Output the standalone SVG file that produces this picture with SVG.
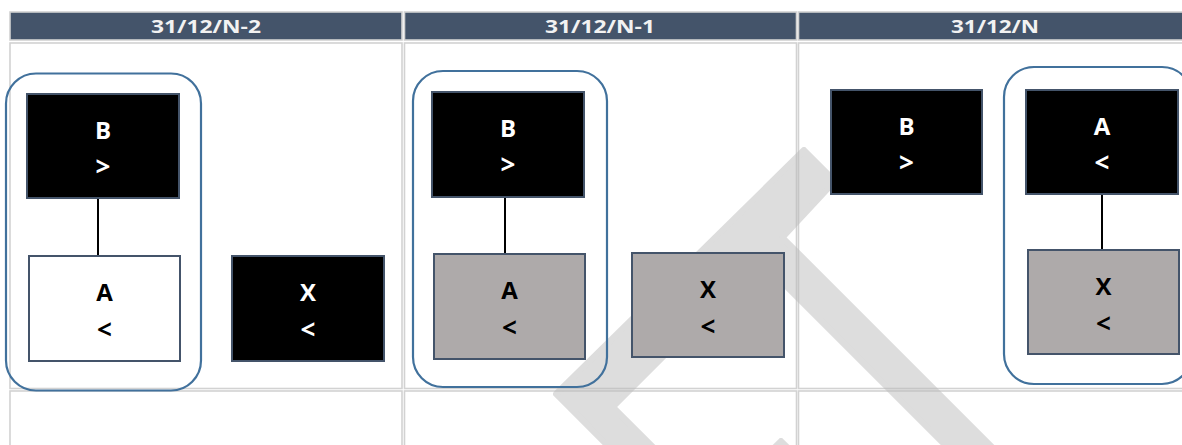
<svg xmlns="http://www.w3.org/2000/svg" width="1182" height="445" viewBox="0 0 1182 445">
<style>
.cell{fill:none;stroke:#D2D2D2;stroke-width:1.6}
.hdr{fill:#44546A;stroke:#D2D2D2;stroke-width:1.6}
.htxt{font-family:"Open Sans","Liberation Sans",sans-serif;font-weight:bold;font-size:18.5px;fill:#F2F2F2;text-anchor:middle}
.grp{fill:none;stroke:#41719C;stroke-width:2.2}
.box{stroke:#44546A;stroke-width:2}
.dark{fill:#000000}
.light{fill:#FFFFFF}
.gray{fill:#AEAAAA}
.t{font-family:"Open Sans","Liberation Sans",sans-serif;font-weight:bold;font-size:24px;text-anchor:middle}
.s{font-size:26px}
.tw{fill:#FFFFFF}
.tb{fill:#000000}
.conn{stroke:#000000;stroke-width:2;fill:none}
.wm{fill:#BCBCBC;stroke:#BCBCBC;stroke-width:6;stroke-linejoin:round;opacity:0.5}
</style>
<rect width="1182" height="445" fill="#FFFFFF"/>
<g id="table">
<rect class="hdr" x="10" y="12" width="392" height="28"/>
<rect class="hdr" x="404.5" y="12" width="392" height="28"/>
<rect class="hdr" x="798.5" y="12" width="400" height="28"/>
<text class="htxt" x="206" y="33" textLength="110" lengthAdjust="spacingAndGlyphs">31/12/N-2</text>
<text class="htxt" x="600" y="33" textLength="110" lengthAdjust="spacingAndGlyphs">31/12/N-1</text>
<text class="htxt" x="995" y="33" textLength="88" lengthAdjust="spacingAndGlyphs">31/12/N</text>
<rect class="cell" x="10" y="43" width="392" height="345.5"/>
<rect class="cell" x="404.5" y="43" width="392" height="345.5"/>
<rect class="cell" x="798.5" y="43" width="400" height="345.5"/>
<rect class="cell" x="10" y="391" width="392" height="80"/>
<rect class="cell" x="404.5" y="391" width="392" height="80"/>
<rect class="cell" x="798.5" y="391" width="400" height="80"/>
</g>
<g id="watermark">
<polygon class="wm" points="804,150 835,181 782.5,237.5 1015,470 970,470 760,260 613,407 676,470 632,470 559,397 556,394"/>
<polygon class="wm" points="770,452 781,441 792,452 792,470 770,470"/>
</g>
<g id="group-n2"><rect class="grp" x="6" y="73.5" width="195" height="317" rx="30"/></g>
<g id="group-n1"><rect class="grp" x="413" y="71" width="194" height="316" rx="30"/></g>
<g id="group-n"><rect class="grp" x="1004" y="67" width="188" height="317" rx="30"/></g>
<g id="connectors">
<line class="conn" x1="98" y1="198" x2="98" y2="256"/>
<line class="conn" x1="505" y1="197" x2="505" y2="254"/>
<line class="conn" x1="1102" y1="194" x2="1102" y2="250"/>
</g>
<g id="n2-B">
<rect class="box dark" x="27" y="94" width="152" height="104"/>
<text class="t tw" x="103" y="138.5">B</text>
<text class="t s tw" x="103" y="175.5">&gt;</text>
</g>
<g id="n2-A">
<rect class="box light" x="29" y="256" width="151" height="105"/>
<text class="t tb" x="104.5" y="300.5">A</text>
<text class="t s tb" x="104.5" y="338.5">&lt;</text>
</g>
<g id="n2-X">
<rect class="box dark" x="232" y="256" width="152" height="105"/>
<text class="t tw" x="308" y="300.5">X</text>
<text class="t s tw" x="308" y="338.5">&lt;</text>
</g>
<g id="n1-B">
<rect class="box dark" x="432" y="92" width="152" height="105"/>
<text class="t tw" x="508" y="137">B</text>
<text class="t s tw" x="508" y="173.5">&gt;</text>
</g>
<g id="n1-A">
<rect class="box gray" x="434" y="254" width="151" height="105"/>
<text class="t tb" x="509.5" y="298.5">A</text>
<text class="t s tb" x="509.5" y="336.5">&lt;</text>
</g>
<g id="n1-X">
<rect class="box gray" x="632" y="253" width="152" height="104"/>
<text class="t tb" x="708" y="297.5">X</text>
<text class="t s tb" x="708" y="335.5">&lt;</text>
</g>
<g id="n-B">
<rect class="box dark" x="831" y="90" width="151" height="104"/>
<text class="t tw" x="906.5" y="134.5">B</text>
<text class="t s tw" x="906.5" y="171.5">&gt;</text>
</g>
<g id="n-A">
<rect class="box dark" x="1026" y="90" width="152" height="104"/>
<text class="t tw" x="1102" y="134.5">A</text>
<text class="t s tw" x="1102" y="171.5">&lt;</text>
</g>
<g id="n-X">
<rect class="box gray" x="1028" y="250" width="151" height="104"/>
<text class="t tb" x="1103.5" y="294.5">X</text>
<text class="t s tb" x="1103.5" y="332.5">&lt;</text>
</g>
</svg>
